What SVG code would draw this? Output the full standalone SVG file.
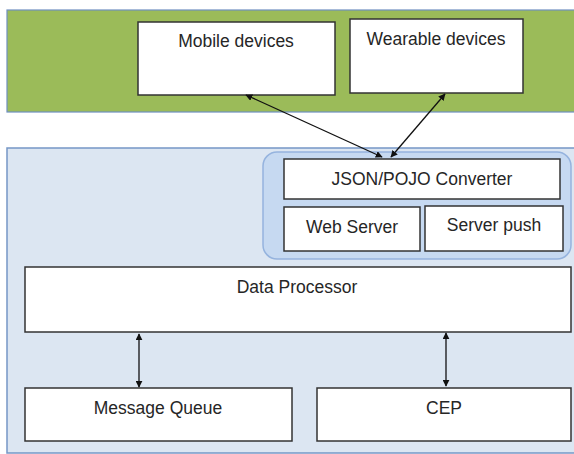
<svg xmlns="http://www.w3.org/2000/svg" width="574" height="454" viewBox="0 0 574 454">
<defs>
<marker id="ah" viewBox="0 0 10 10" refX="9" refY="5" markerWidth="7" markerHeight="7" orient="auto-start-reverse" markerUnits="userSpaceOnUse">
<path d="M0,0 L10,5 L0,10 z" fill="#111"/>
</marker>
<style>
.box{fill:#fff;stroke:#333;stroke-width:1.5}
.t{font-family:"Liberation Sans",Arial,sans-serif;font-size:17.5px;fill:#262626;text-anchor:middle}
.c{stroke:#111;stroke-width:1.3;fill:none;marker-start:url(#ah);marker-end:url(#ah)}
</style>
</defs>
<rect width="574" height="454" fill="#fff"/>
<g id="devices-band"><rect x="7" y="10" width="570" height="102" fill="#9bbb59" stroke="#6f8fc0" stroke-width="1.2"/></g>
<g id="server-panel"><rect x="7" y="148" width="570" height="305" fill="#dce6f2" stroke="#7597c6" stroke-width="1.5"/></g>
<g id="web-group"><rect x="263" y="152" width="308" height="107" rx="14" fill="#c6d9f1" stroke="#95b3de" stroke-width="1.5"/></g>
<g id="mobile"><rect class="box" x="138" y="22" width="197" height="73"/><text class="t" x="236" y="47">Mobile devices</text></g>
<g id="wearable"><rect class="box" x="350" y="19" width="173" height="74"/><text class="t" x="436" y="45">Wearable devices</text></g>
<g id="json"><rect class="box" x="284" y="159" width="276" height="40"/><text class="t" x="422" y="185">JSON/POJO Converter</text></g>
<g id="webserver"><rect class="box" x="284" y="207" width="136" height="44"/><text class="t" x="352" y="233">Web Server</text></g>
<g id="serverpush"><rect class="box" x="425" y="206" width="138" height="45"/><text class="t" x="494" y="231">Server push</text></g>
<g id="dataprocessor"><rect class="box" x="25" y="267" width="546" height="65"/><text class="t" x="297" y="293">Data Processor</text></g>
<g id="mq"><rect class="box" x="25" y="388" width="267" height="53"/><text class="t" x="158" y="414">Message Queue</text></g>
<g id="cep"><rect class="box" x="317" y="388" width="254" height="53"/><text class="t" x="444" y="414">CEP</text></g>
<g id="connectors">
<line class="c" x1="246" y1="95" x2="382" y2="157"/>
<line class="c" x1="445" y1="94" x2="391" y2="157"/>
<line class="c" x1="139" y1="334" x2="139" y2="387"/>
<line class="c" x1="446" y1="333" x2="446" y2="386"/>
</g>
</svg>
